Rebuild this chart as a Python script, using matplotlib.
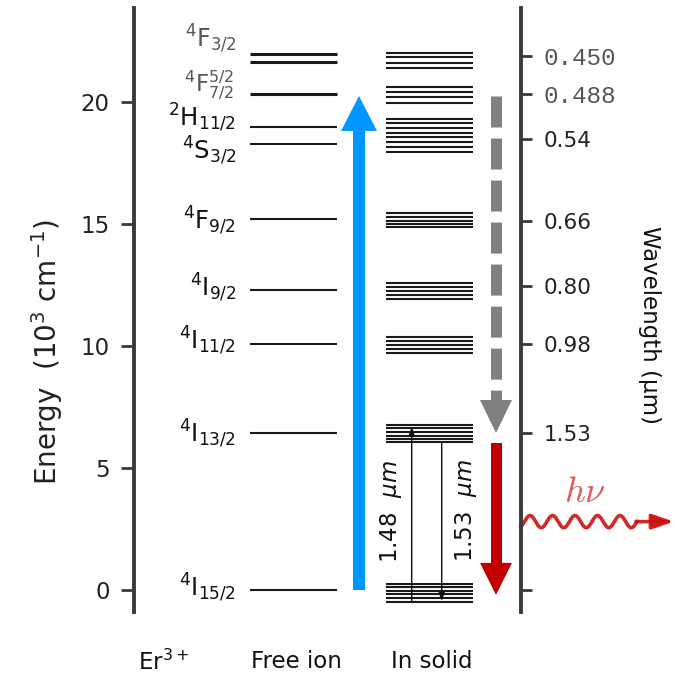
import numpy as np
import matplotlib
matplotlib.use("Agg")
import matplotlib.pyplot as plt
from matplotlib.patches import Polygon

# ---------------- data ----------------
term_labels = [r'$^{4}$F$_{3/2}$', r'$^{4}\mathrm{F}^{5/2}_{7/2}$', r'$^{2}$H$_{11/2}$',
               r'$^{4}$S$_{3/2}$', r'$^{4}$F$_{9/2}$', r'$^{4}$I$_{9/2}$',
               r'$^{4}$I$_{11/2}$', r'$^{4}$I$_{13/2}$', r'$^{4}$I$_{15/2}$']
free_ion_E = [21.93, 21.64, 20.33, 18.98, 18.28, 15.20, 12.30, 10.08, 6.43, 0.00]
stark_A = [21.99, 21.81, 21.60, 21.38]
stark_B = [20.58, 20.39, 20.17, 19.94]
stark_C = [19.29, 19.11, 18.91, 18.73, 18.56, 18.36, 18.15, 17.95]
stark_D = [15.45, 15.29, 15.12, 14.99, 14.85]
stark_E = [12.58, 12.42, 12.24, 12.08, 11.92]
stark_F = [10.37, 10.21, 10.03, 9.86, 9.69]
stark_G = [6.76, 6.62, 6.48, 6.32, 6.18, 6.05]
stark_H = [0.25, 0.11, -0.03, -0.16, -0.34, -0.48]
energy_ticks = [0, 5, 10, 15, 20]
wl_tick_E = [21.87, 20.31, 18.47, 15.11, 12.45, 10.07, 6.43, 0.0]
wl_tick_labels = ['0.450', '0.488', '0.54', '0.66', '0.80', '0.98', '1.53', '']
column_labels = ['Er$^{3+}$', 'Free ion', 'In solid']
pump_E = [0.0, 20.23]
relax_E = [20.23, 6.43]
emit_E = [6.02, -0.20]
abs148_E = [-0.48, 6.68]
em153_E = [6.05, -0.45]

# ---------------- layout / style ----------------
W, H = 675, 678
label_y = [22.6, 20.78, 19.36, 18.02, 15.15, 12.41, 10.24, 6.43, 0.12]
label_x = [237, 234, 236, 236, 236, 236, 236, 236, 236]
label_col = ['#555555', '#555555'] + ['#111111'] * 7
label_size = [17, 16.5, 17.5, 17.5, 17.5, 17.5, 17.5, 17.5, 17.5]
free_lw = [2.2, 2.2, 2.2, 1.5, 1.5, 1.5, 1.5, 1.5, 1.5, 1.5]
spine_c = '#3a3a3a'

fig = plt.figure(figsize=(W / 100, H / 100), dpi=100)
ax = fig.add_axes([134 / W, (H - 612) / H, (521 - 134) / W, 604 / H])
ax.set_xlim(134, 521)
ax.set_ylim((590 - 612) / 24.42, (590 - 8) / 24.42)
px_per_E = 604 / (ax.get_ylim()[1] - ax.get_ylim()[0])

for s in ['top', 'bottom', 'right']:
    ax.spines[s].set_visible(False)
ax.spines['left'].set_linewidth(2.8)
ax.spines['left'].set_color(spine_c)
ax.set_xticks([])
ax.set_yticks(energy_ticks)
ax.tick_params(axis='y', direction='out', length=9.5, width=2, color=spine_c,
               labelcolor='#222222', labelsize=16.5, pad=8)

ax2 = ax.twinx()
ax2.set_ylim(ax.get_ylim())
for s in ['top', 'bottom', 'left']:
    ax2.spines[s].set_visible(False)
ax2.spines['right'].set_linewidth(2.8)
ax2.spines['right'].set_color(spine_c)
ax2.set_yticks(wl_tick_E)
ax2.set_yticklabels(wl_tick_labels)
ax2.tick_params(axis='y', direction='out', length=8, width=2, color=spine_c,
                labelcolor='#222222', labelsize=15.5, pad=8)
for i, t in enumerate(ax2.get_yticklabels()):
    if i < 2:
        t.set_family('Liberation Mono')
        t.set_color('#555555')
        t.set_fontsize(17.5)

# free ion levels
ax.hlines(free_ion_E, 250, 337, colors='#1a1a1a', linewidths=free_lw)
# in-solid Stark manifolds
for grp in [stark_A, stark_B, stark_C, stark_D, stark_E, stark_F, stark_G, stark_H]:
    ax.hlines(grp, 386, 473, colors='#1a1a1a', linewidths=1.5)

# term labels
for lab, x, y, c, fs in zip(term_labels, label_x, label_y, label_col, label_size):
    cap_off = 0.73 * fs * 100 / 72 / 2 / px_per_E
    ax.text(x, y - cap_off, lab, ha='right', va='baseline', fontsize=fs,
            color=c, clip_on=False)

# block arrows
def block_arrow(xc, y0, y1, shaft_w, head_w, head_len, color, dashed=False):
    sign = 1 if y1 > y0 else -1
    ybase = y1 - sign * head_len / px_per_E
    if dashed:
        ax.plot([xc, xc], [y0, ybase], color=color, lw=shaft_w * 0.72,
                dashes=(2.82, 1.0), dash_capstyle='butt', solid_capstyle='butt',
                clip_on=False)
    else:
        ax.add_patch(Polygon([[xc - shaft_w / 2, y0], [xc + shaft_w / 2, y0],
                              [xc + shaft_w / 2, ybase], [xc - shaft_w / 2, ybase]],
                             closed=True, facecolor=color, edgecolor='none',
                             clip_on=False))
    ax.add_patch(Polygon([[xc - head_w / 2, ybase], [xc + head_w / 2, ybase], [xc, y1]],
                         closed=True, facecolor=color, edgecolor='none', clip_on=False))

block_arrow(359, pump_E[0], pump_E[1], 12, 36, 35, '#0096ff')
block_arrow(496, relax_E[0], relax_E[1], 11, 32, 33, '#808080', dashed=True)
block_arrow(496, emit_E[0], emit_E[1], 11, 32, 32, '#c00000')

# thin transition arrows in solid
for xc, (ya, yb) in [(411.7, abs148_E), (441.7, em153_E)]:
    ax.annotate('', xy=(xc, yb), xytext=(xc, ya),
                arrowprops=dict(arrowstyle='-|>,head_length=0.5,head_width=0.18',
                                color='#111111', lw=1.0, shrinkA=0, shrinkB=0))
ax.text(391, 3.19, r'1.48  $\mu m$', rotation=90, ha='center', va='center',
        fontsize=16.5, color='#111111')
ax.text(466, 3.23, r'1.53  $\mu m$', rotation=90, ha='center', va='center',
        fontsize=16.5, color='#111111')

# emitted photon (wavy arrow)
wave_E = 2.80
xs = np.linspace(521, 637, 500)
ys = wave_E + 0.25 * np.sin(2 * np.pi * (xs - 524.4) / 22.5)
ax.plot(xs, ys, color='#cc1010', lw=2.6, alpha=0.9, clip_on=False)
ax.annotate('', xy=(674, wave_E), xytext=(636, wave_E), annotation_clip=False,
            arrowprops=dict(arrowstyle='-|>,head_length=1.3,head_width=0.45',
                            color='#cc1010', lw=2.6, alpha=0.9, shrinkA=0, shrinkB=0))
ax.text(585, 4.0, r'$h\nu$', ha='center', va='center', fontsize=26,
        color='#d84040', alpha=0.85, math_fontfamily='cm', clip_on=False)

# column labels and axis titles
for lab, xp in zip(column_labels, [164, 296, 432]):
    fig.text(xp / W, 1 - 662 / H, lab, ha='center', va='center', fontsize=16.5,
             color='#111111')
fig.text(47 / W, 1 - 352 / H, 'Energy  (10$^3$ cm$^{-1}$)', rotation=90,
         ha='center', va='center', fontsize=20, color='#222222')
fig.text(650 / W, 1 - 325 / H, 'Wavelength (μm)', rotation=-90,
         ha='center', va='center', fontsize=16.5, color='#111111')

fig.savefig('out.png', dpi=100)
